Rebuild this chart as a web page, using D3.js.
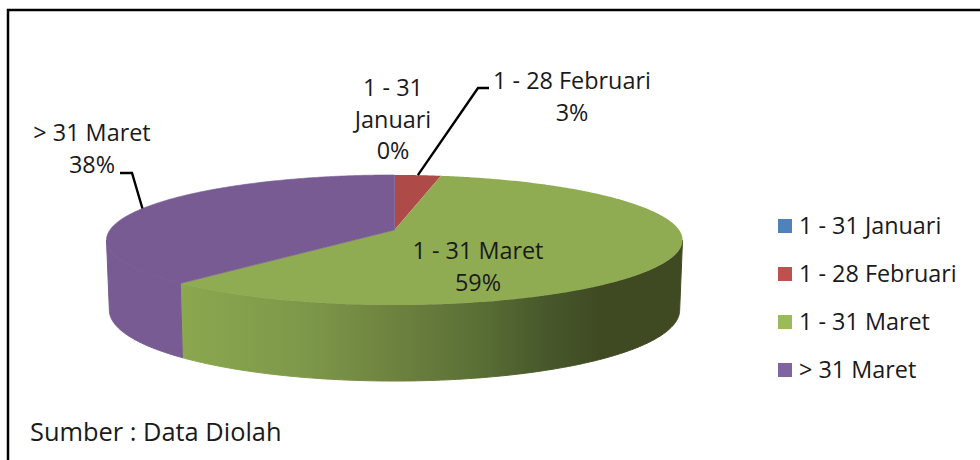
<!DOCTYPE html>
<html>
<head>
<meta charset="utf-8">
<script src="https://cdn.jsdelivr.net/npm/d3@7"></script>
<style>
    html, body { margin: 0; padding: 0; background: #fff; overflow: hidden; }
    text { font-family: "Open Sans", sans-serif; font-size: 23.4px; fill: #1a1a1a; }
    text.source { font-size: 25.4px; }
</style>
</head>
<body>
<div id="chart-div"></div>
<script>
const categories = ['1 - 31 Januari', '1 - 28 Februari', '1 - 31 Maret', '> 31 Maret'];
const shares = [0.01, 3, 58.6, 38.39];
const topColors = ['#4f81bd', '#ae4a47', '#8fac53', '#775b92'];
const legendColors = ['#4f81bd', '#c0504d', '#9bbb59', '#8064a2'];
const labelLines = [['1 - 31', 'Januari'], ['1 - 28 Februari'], ['1 - 31 Maret'], ['> 31 Maret']];

const width = 980;
const height = 460;

const svg = d3.select('#chart-div')
    .append('svg')
    .attr('width', width)
    .attr('height', height);

// frame only has a top and a left side, the picture is cropped
svg.append('path')
    .attr('d', 'M8,' + height + 'V10H' + width)
    .attr('fill', 'none')
    .attr('stroke', '#000')
    .attr('stroke-width', 2.5);

const cx = 394.5;
const cy = 230;
const tilt = 0.1538;   // perspective, the back of the disc is smaller than the front

// disc coordinates (-1..1) to screen pixels
const xDisc = d3.scaleLinear().domain([-1, 1]).range([cx - 284.6, cx + 284.6]);
const yDisc = d3.scaleLinear().domain([-1, 1]).range([cy - 63.5, cy + 63.5]);

function project(angle, depth) {
    const u = Math.sin(angle);
    const v = -Math.cos(angle);
    const w = 1 - tilt * v;
    const shrink = depth ? 0.99 : 1;
    return [
        cx + (xDisc(u / w) - cx) * shrink,
        yDisc(v / w) + (depth ? 69 + 7 * v : 0)
    ];
}

function rim(a0, a1, depth) {
    const n = Math.max(2, Math.ceil((a1 - a0) / 0.01));
    return d3.range(n + 1).map(i => project(a0 + (a1 - a0) * i / n, depth));
}

const line = d3.line();
const slices = d3.pie().sort(null).value(d => d)(shares);
slices.forEach((s, i) => { s.name = categories[i]; s.color = topColors[i]; s.index = i; });

const defs = svg.append('defs');
const grad = defs.append('linearGradient')
    .attr('id', 'green-side')
    .attr('gradientUnits', 'userSpaceOnUse')
    .attr('x1', 180).attr('x2', 600)
    .attr('y1', 0).attr('y2', 0);
[[0, '#8ba84f'], [0.3, '#7d9849'], [0.5, '#6f8340'], [0.7, '#5b7036'], [0.87, '#48582b'], [1, '#3f4a23']]
    .forEach(d => grad.append('stop').attr('offset', d[0]).attr('stop-color', d[1]));

// side walls, from the widest point of the disc round the front
const frontStart = Math.acos(-tilt);
const frontEnd = Math.PI * 2 - frontStart;
const sideFill = { 2: 'url(#green-side)', 3: '#775b92' };

slices.forEach(s => {
    const a0 = Math.max(s.startAngle, frontStart);
    const a1 = Math.min(s.endAngle, frontEnd);
    if (a1 <= a0) return;
    const top = rim(a0, a1, false);
    const bottom = rim(a0, a1, true).reverse();
    // the thin stroke closes the light seam against the top face
    svg.append('path')
        .attr('d', line(top.concat(bottom)) + 'Z')
        .attr('fill', sideFill[s.index])
        .attr('stroke', sideFill[s.index])
        .attr('stroke-width', 1);
});

// top faces
slices.forEach(s => {
    svg.append('path')
        .attr('d', line([[cx, cy]].concat(rim(s.startAngle, s.endAngle, false))) + 'Z')
        .attr('fill', s.color)
        .attr('stroke', s.index == 3 ? s.color : 'none')
        .attr('stroke-width', 0.6);
});

function multiLine(lines, x, y) {
    const t = svg.append('text').attr('text-anchor', 'middle');
    lines.forEach((l, i) => {
        t.append('tspan').attr('x', x).attr('y', y + i * 31.5).text(l);
    });
}

const pct = d3.format('.0%');
const total = d3.sum(shares);
const labelPos = [[393, 96], [572, 89], [478, 259], [92, 141]];
slices.forEach((s, i) => {
    multiLine(labelLines[i].concat(pct(shares[i] / total)), labelPos[i][0], labelPos[i][1]);
});

// leader lines go from the middle of the slice to its label
const leaders = [
    { slice: 1, elbow: [478, 88], end: [489, 88] },
    { slice: 3, elbow: [132, 173], end: [120, 173] }
];
leaders.forEach(d => {
    const s = slices[d.slice];
    const start = project((s.startAngle + s.endAngle) / 2, false);
    svg.append('path')
        .attr('d', line([start, d.elbow, d.end]))
        .attr('fill', 'none')
        .attr('stroke', '#000')
        .attr('stroke-width', 2.4);
});

// legend
const legendY = d3.scalePoint().domain(categories).range([226, 370]);
svg.selectAll('rect.legend').data(categories).enter().append('rect')
    .attr('class', 'legend')
    .attr('x', 778)
    .attr('y', d => legendY(d) - 7)
    .attr('width', 14)
    .attr('height', 14)
    .attr('fill', (d, i) => legendColors[i]);
svg.selectAll('text.legend').data(categories).enter().append('text')
    .attr('class', 'legend')
    .attr('x', 799)
    .attr('y', d => legendY(d) + 8)
    .text(d => d);

svg.append('text')
    .attr('class', 'source')
    .attr('x', 30)
    .attr('y', 441)
    .text('Sumber : Data Diolah');
</script>
</body>
</html>
